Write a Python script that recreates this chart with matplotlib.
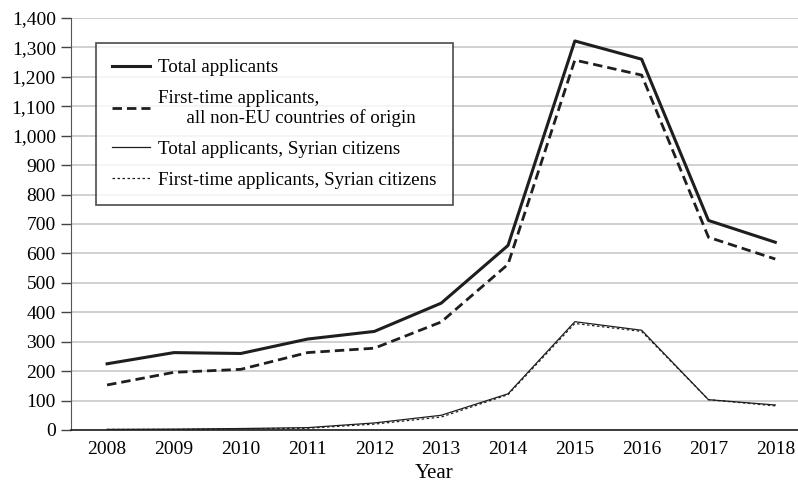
import matplotlib
matplotlib.use('Agg')
import matplotlib.pyplot as plt
from matplotlib.lines import Line2D

plt.rcParams['font.family'] = ['Liberation Serif', 'DejaVu Serif']
plt.rcParams['font.size'] = 14

years = [2008, 2009, 2010, 2011, 2012, 2013, 2014, 2015, 2016, 2017, 2018]
total = [225, 263, 260, 309, 335, 431, 627, 1322, 1260, 712, 638]
first_time = [153, 196, 206, 263, 278, 367, 563, 1257, 1206, 655, 581]
syria_total = [2, 3, 5, 8, 24, 50, 123, 368, 339, 103, 85]
syria_first = [2, 2, 4, 6, 20, 44, 120, 362, 335, 103, 82]

labels = ['Total applicants',
          'First-time applicants,\n      all non-EU countries of origin',
          'Total applicants, Syrian citizens',
          'First-time applicants, Syrian citizens']

W, H = 798, 484
fig = plt.figure(figsize=(W / 100, H / 100), dpi=100)
ax = fig.add_axes([71 / W, 54 / H, 727 / W, 412 / H])

c = '#1e1e1e'
styles = [dict(color=c, lw=2.2),
          dict(color=c, lw=2.0, ls=(0, (3.4, 1.8))),
          dict(color=c, lw=0.9),
          dict(color=c, lw=0.9, ls=(0, (2, 2)))]
for ys, st in zip([total, first_time, syria_total, syria_first], styles):
    ax.plot(years, ys, **st)

ax.set_xlim(2007.46, 2018.34)
ax.set_ylim(0, 1400)
ax.set_xticks(years)
ax.set_yticks(range(0, 1401, 100))
ax.set_yticklabels([f'{v:,}' for v in range(0, 1401, 100)])
ax.set_xlabel('Year', fontsize=15, labelpad=4)
ax.yaxis.grid(True, color='#c8c8c8', lw=1.2)
ax.set_axisbelow(True)
ax.tick_params(axis='x', length=0, pad=8)
ax.tick_params(axis='y', length=7, width=1, color='#444444', pad=4)
for s in ['top', 'right']:
    ax.spines[s].set_visible(False)
ax.spines['left'].set_color('#555555')
ax.spines['bottom'].set_color('#1e1e1e')
ax.spines['bottom'].set_linewidth(1.2)

handles = [Line2D([], [], **st) for st in styles]
leg = fig.legend(handles, labels, loc='upper left',
                 bbox_to_anchor=(96 / W, 1 - 43 / H), borderaxespad=0,
                 fontsize=13.7, frameon=True, fancybox=False, edgecolor=c,
                 handlelength=2.0, handletextpad=0.4, labelspacing=0.7,
                 borderpad=0.85)
leg.get_frame().set_linewidth(1.2)

fig.savefig('out.png', dpi=100)
